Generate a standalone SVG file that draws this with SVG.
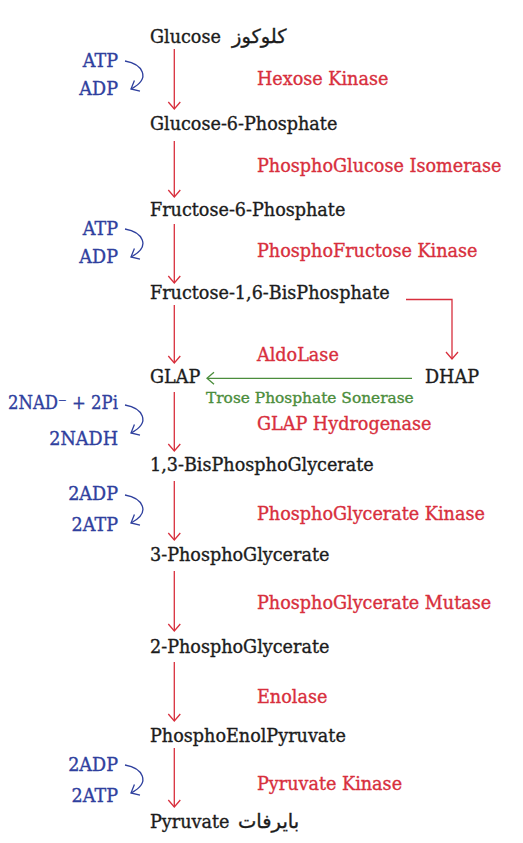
<svg xmlns="http://www.w3.org/2000/svg" width="523" height="843" viewBox="0 0 523 843">
<style>
text{font-family:"DejaVu Serif","Liberation Serif","DejaVu Sans",serif;font-size:17.6px;stroke-width:0.35px}
.m{fill:#1c1c1c;stroke:#1c1c1c}
.e{fill:#d82f3d;stroke:#d82f3d}
.c{fill:#2f409e;stroke:#2f409e}
.g{fill:#4b8d3c;stroke:#4b8d3c;font-size:15.4px}
.ar{font-family:"DejaVu Sans","Noto Sans",sans-serif;font-size:19.5px;fill:#1c1c1c;stroke:#1c1c1c}
.r{stroke:#d82f3d;stroke-width:1.3;fill:none;marker-end:url(#hr)}
.b{stroke:#2f409e;stroke-width:1.3;fill:none;marker-end:url(#hb)}
.gl{stroke:#4b8d3c;stroke-width:1.3;fill:none;marker-end:url(#hg)}
</style>
<defs>
<marker id="hr" markerUnits="userSpaceOnUse" markerWidth="14" markerHeight="14" refX="11" refY="6" orient="auto" overflow="visible"><path d="M4,0 L11,6 L4,12" fill="none" stroke="#d82f3d" stroke-width="1.3"/></marker>
<marker id="hb" markerUnits="userSpaceOnUse" markerWidth="14" markerHeight="14" refX="11" refY="6" orient="auto" overflow="visible"><path d="M4,0 L11,6 L4,12" fill="none" stroke="#2f409e" stroke-width="1.3"/></marker>
<marker id="hg" markerUnits="userSpaceOnUse" markerWidth="14" markerHeight="14" refX="11" refY="6" orient="auto" overflow="visible"><path d="M4,0 L11,6 L4,12" fill="none" stroke="#4b8d3c" stroke-width="1.3"/></marker>
</defs>
<g id="glucose"><text class="m" x="150" y="43">Glucose</text><text class="ar" x="232" y="43">كلوكوز</text></g>
<g id="g6p"><text class="m" x="150" y="130">Glucose-6-Phosphate</text></g>
<g id="f6p"><text class="m" x="150" y="216">Fructose-6-Phosphate</text></g>
<g id="f16bp"><text class="m" x="150" y="299">Fructose-1,6-BisPhosphate</text></g>
<g id="glap"><text class="m" x="150" y="383">GLAP</text></g>
<g id="dhap"><text class="m" x="425" y="383">DHAP</text></g>
<g id="bpg13"><text class="m" x="150" y="471">1,3-BisPhosphoGlycerate</text></g>
<g id="pg3"><text class="m" x="150" y="561">3-PhosphoGlycerate</text></g>
<g id="pg2"><text class="m" x="150" y="653">2-PhosphoGlycerate</text></g>
<g id="pep"><text class="m" x="150" y="742">PhosphoEnolPyruvate</text></g>
<g id="pyruvate"><text class="m" x="150" y="828">Pyruvate</text><text class="ar" x="238" y="828">بايرفات</text></g>
<g id="enzymes">
<text class="e" x="257" y="85">Hexose Kinase</text>
<text class="e" x="257" y="172">PhosphoGlucose Isomerase</text>
<text class="e" x="257" y="257">PhosphoFructose Kinase</text>
<text class="e" x="257" y="361">AldoLase</text>
<text class="g" x="206" y="403">Trose Phosphate Sonerase</text>
<text class="e" x="257" y="430">GLAP Hydrogenase</text>
<text class="e" x="257" y="520">PhosphoGlycerate Kinase</text>
<text class="e" x="257" y="609">PhosphoGlycerate Mutase</text>
<text class="e" x="257" y="703">Enolase</text>
<text class="e" x="257" y="790">Pyruvate Kinase</text>
</g>
<g id="cofactors" text-anchor="end">
<text class="c" x="118" y="67">ATP</text>
<text class="c" x="118" y="95">ADP</text>
<text class="c" x="118" y="235">ATP</text>
<text class="c" x="118" y="263">ADP</text>
<text class="c" x="118" y="409" textLength="110" lengthAdjust="spacingAndGlyphs">2NAD⁻ + 2Pi</text>
<text class="c" x="118" y="445">2NADH</text>
<text class="c" x="118" y="500">2ADP</text>
<text class="c" x="118" y="531">2ATP</text>
<text class="c" x="118" y="771">2ADP</text>
<text class="c" x="118" y="802">2ATP</text>
</g>
<g id="connectors">
<line class="r" x1="174.3" y1="49" x2="174.3" y2="109"/>
<line class="r" x1="174.3" y1="141" x2="174.3" y2="197"/>
<line class="r" x1="174.3" y1="224" x2="174.3" y2="283"/>
<line class="r" x1="174.3" y1="305" x2="174.3" y2="363"/>
<line class="r" x1="174.3" y1="392" x2="174.3" y2="451"/>
<line class="r" x1="174.3" y1="481" x2="174.3" y2="540"/>
<line class="r" x1="174.3" y1="571" x2="174.3" y2="631"/>
<line class="r" x1="174.3" y1="662" x2="174.3" y2="721"/>
<line class="r" x1="174.3" y1="748" x2="174.3" y2="807"/>
<path class="r" d="M406,299.5 H452 V359"/>
<line class="gl" x1="412" y1="378.3" x2="207" y2="378.3"/>
<path class="b" d="M125,61 C142,64 152,78 131,89"/>
<path class="b" d="M125,229 C142,232 152,246 131,257"/>
<path class="b" d="M125,405 C142,408 152,422 131,433"/>
<path class="b" d="M125,495 C142,498 152,512 131,523"/>
<path class="b" d="M125,765 C142,768 152,782 131,793"/>
</g>
</svg>
